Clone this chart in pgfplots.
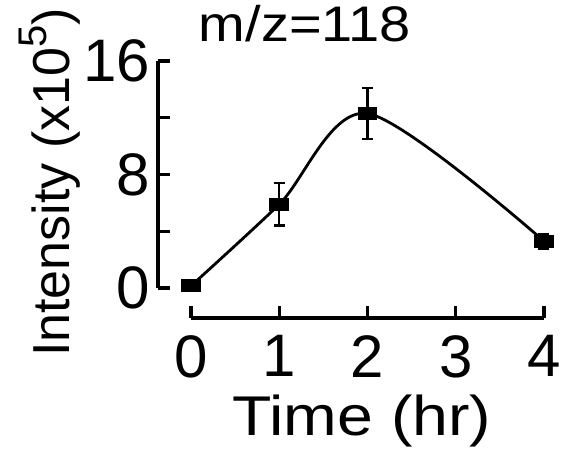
\documentclass[border=0pt]{standalone}
\usepackage{fontspec}
\setmainfont{Liberation Sans}
\usepackage{pgfplots}
\pgfplotsset{compat=1.18}
\begin{document}
\begin{tikzpicture}
\begin{axis}[
  at={(0pt,0pt)}, anchor=south west,
  scale only axis,
  width=353pt, height=227pt,
  xmin=0, xmax=4, ymin=0, ymax=16,
  clip=false,
  axis lines=left,
  axis line style={-, line width=3.3pt, black},
  axis x line shift=30pt,
  axis y line shift=33pt,
  tick align=inside,
  major tick length=12pt,
  every tick/.append style={line width=3.3pt, black},
  xtick={0,1,2,3,4}, xticklabels={0,1,2,3,4},
  ytick={0,4,8,12,16}, yticklabels={0,,8,,16},
  /pgf/number format/assume math mode=true,
  ticklabel style={font=\fontsize{60}{72}\selectfont},
  yticklabel style={anchor=east, inner xsep=0pt, xshift=-8pt},
  xticklabel style={anchor=north, inner ysep=0pt, yshift=-17pt},
  title={m/z=118},
  title style={at={([yshift=14pt]axis description cs:0.323,1)}, anchor=base, inner sep=0pt, font=\fontsize{50}{55}\selectfont, xscale=1.12},
  xlabel={Time (hr)},
  xlabel style={at={([yshift=-147pt]axis description cs:0.484,0)}, anchor=base, inner sep=0pt, font=\fontsize{56}{60}\selectfont, xscale=1.15},
  ylabel={Intensity (x10\raisebox{0.45em}{\fontsize{40}{40}\selectfont 5})},
  ylabel style={at={([xshift=-121pt]axis description cs:0,0.465)}, anchor=base, inner sep=0pt, font=\fontsize{52}{60}\selectfont},
]
\addplot[black, line width=2.8pt, smooth, mark=square*, mark size=5pt,
  mark options={xscale=1.7, solid, fill=black},
  error bars/.cd, y dir=both, y explicit,
  error bar style={line width=2.5pt, black},
  error mark=-,
  error mark options={rotate=90, mark size=5.5pt, line width=2.5pt, black}]
  coordinates {
    (0,0.15) +- (0,0.2)
    (1,5.9) +- (0,1.5)
    (2,12.3) +- (0,1.8)
    (4,3.3) +- (0,0.5)
  };
\end{axis}
\pgfresetboundingbox
\useasboundingbox (-191pt,-160pt) rectangle (380pt,288pt);
\end{tikzpicture}
\end{document}
